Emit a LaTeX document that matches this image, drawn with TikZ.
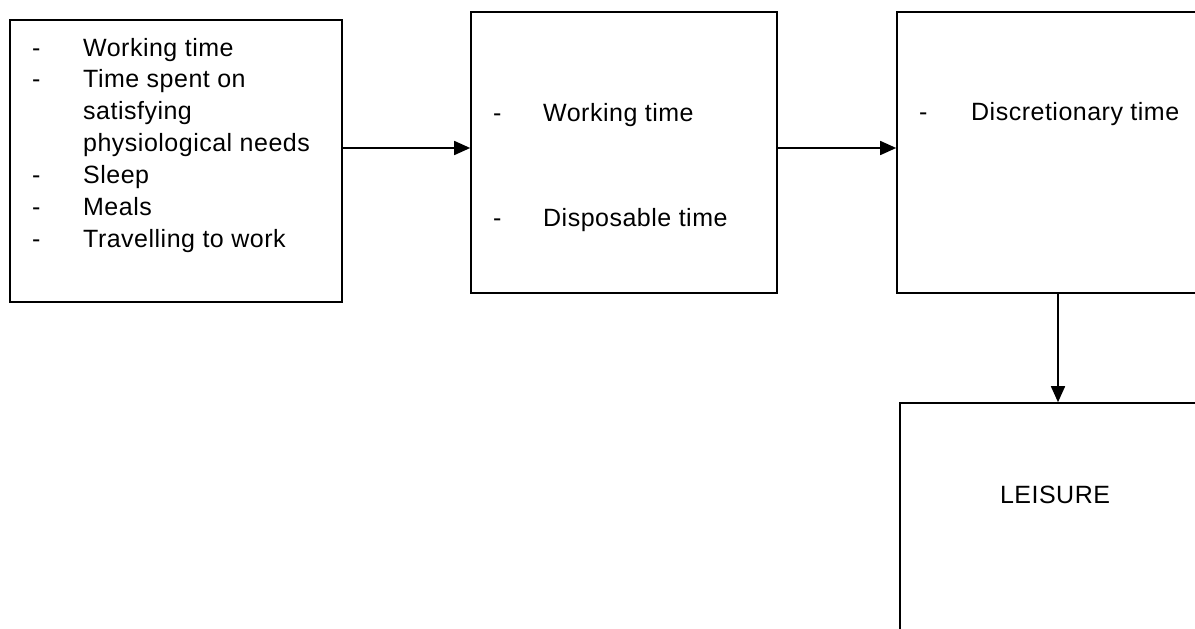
\documentclass[tikz,border=0pt]{standalone}
\usepackage{fontspec}
\setmainfont[LetterSpace=2]{Liberation Sans}
\usetikzlibrary{arrows.meta}

\begin{document}
\begin{tikzpicture}[x=1pt,y=-1pt,
  box/.style={draw, line width=1.6pt, rectangle, inner sep=0pt},
  txt/.style={inner sep=0pt, anchor=base west, font=\fontsize{25}{32}\selectfont},
  flow/.style={draw, line width=1.6pt, -{Triangle[length=16pt,width=14pt]}}]
\useasboundingbox (0,0) rectangle (1195,629);
\clip (0,0) rectangle (1195,629);

\node[box, minimum width=332pt, minimum height=282pt] (time) at (176,161) {};
\node[box, minimum width=306pt, minimum height=281pt] (disp) at (624,152.5) {};
\node[box, minimum width=330pt, minimum height=281pt] (disc) at (1062,152.5) {};
\node[box, minimum width=320pt, minimum height=260pt] (leis) at (1060,533) {};

\node[txt] (list1) at (32,56) {\begin{tabular}[t]{@{}p{51pt}@{}l@{}}
- & Working time\\
- & Time spent on\\
  & satisfying\\
  & physiological needs\\
- & Sleep\\
- & Meals\\
- & Travelling to work
\end{tabular}};
\node[txt] (list2) at (493,121) {\begin{tabular}[t]{@{}p{50pt}@{}l@{}}
- & Working time\\[73pt]
- & Disposable time
\end{tabular}};
\node[txt] (list3) at (919,120) {\begin{tabular}[t]{@{}p{52pt}@{}l@{}}
- & Discretionary time
\end{tabular}};
\node[inner sep=0pt, font=\fontsize{25}{32}\selectfont] (leisure) at (1055,495) {LEISURE};

\path[flow] ([yshift=13pt]time.east) -- ([yshift=4.5pt]disp.west);
\path[flow] ([yshift=4.5pt]disp.east) -- ([yshift=4.5pt]disc.west);
\path[flow] ([xshift=-4pt]disc.south) -- ([xshift=-4pt]disc.south |- leis.north);
\end{tikzpicture}
\end{document}
